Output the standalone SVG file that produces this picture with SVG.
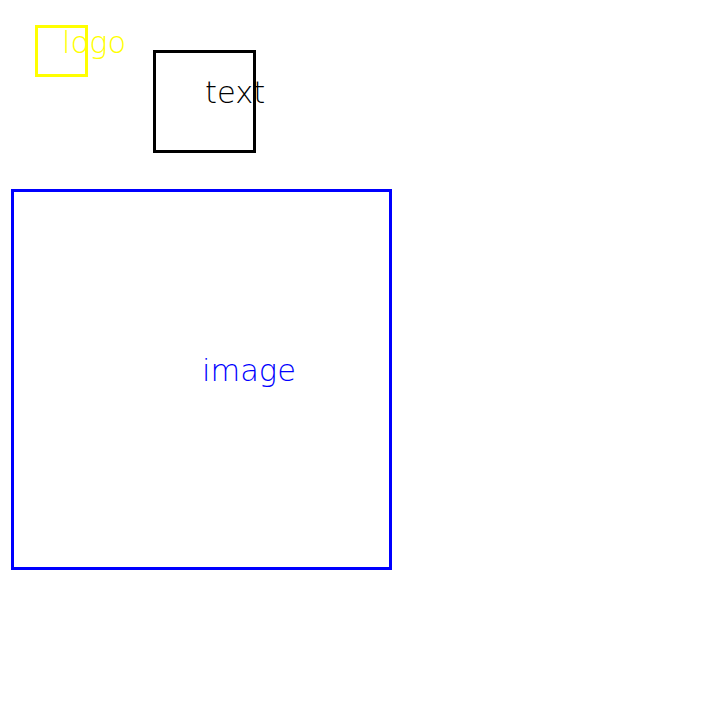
<svg xmlns="http://www.w3.org/2000/svg" width="720" height="720" viewBox="0 0 720 720">
<style>
rect{fill:none;stroke-width:3}
text{font-family:"DejaVu Sans","Inter",sans-serif;font-weight:200;font-size:30.5px}
</style>
<rect x="0" y="0" width="720" height="720" fill="#fff" style="fill:#fff;stroke:none"/>
<g id="logo">
<rect x="36.5" y="26.5" width="50" height="49" stroke="#ffff00"/>
<text x="62" y="52.5" fill="#ffff00">logo</text>
</g>
<g id="text">
<rect x="154.5" y="51.5" width="100" height="100" stroke="#000"/>
<text x="205" y="102.5" fill="#000">text</text>
</g>
<g id="image">
<rect x="12.5" y="190.5" width="378" height="378" stroke="#0000ff"/>
<text x="202" y="380.5" fill="#0000ff">image</text>
</g>
<g id="connectors"></g>
</svg>
